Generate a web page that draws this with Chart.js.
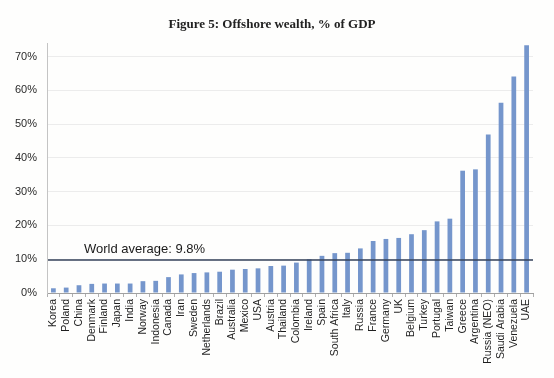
<!DOCTYPE html>
<html>
<head>
<meta charset="utf-8">
<script src="https://cdn.jsdelivr.net/npm/chart.js@4"></script>
<style>
html,body{margin:0;padding:0;background:#fefefd;}
#wrap{width:554px;height:378px;position:relative;}
</style>
</head>
<body>
<div id="wrap"><canvas id="c" width="554" height="378"></canvas></div>
<script>
const categories = ["Korea","Poland","China","Denmark","Finland","Japan","India","Norway","Indonesia","Canada","Iran","Sweden","Netherlands","Brazil","Australia","Mexico","USA","Austria","Thailand","Colombia","Ireland","Spain","South Africa","Italy","Russia","France","Germany","UK","Belgium","Turkey","Portugal","Taiwan","Greece","Argentina","Russia (NEO)","Saudi Arabia","Venezuela","UAE"];
const offshoreWealth = [1.4,1.6,2.3,2.7,2.8,2.8,2.8,3.5,3.6,4.7,5.5,5.9,6.1,6.3,6.9,7.1,7.3,8.0,8.1,9.0,10.0,11.0,11.8,11.9,13.2,15.4,16.0,16.3,17.4,18.6,21.2,22.0,36.2,36.6,46.9,56.3,64.1,73.3];
const worldAverage = 9.8;
const worldAverageLabel = "World average: 9.8%";
const titleText = "Figure 5: Offshore wealth, % of GDP";
const yTicks = [0,10,20,30,40,50,60,70];

const overlay = {
  id: 'overlay',
  afterDatasetsDraw(chart) {
    const ctx = chart.ctx, a = chart.chartArea, y = chart.scales.y.getPixelForValue(worldAverage);
    ctx.save();
    ctx.strokeStyle = '#34425a';
    ctx.lineWidth = 1.5;
    ctx.beginPath();
    ctx.moveTo(a.left + 1, y);
    ctx.lineTo(a.right, y);
    ctx.stroke();
    ctx.fillStyle = '#1a1a1a';
    ctx.font = '13px "Liberation Sans", Arial, sans-serif';
    ctx.textAlign = 'left';
    ctx.textBaseline = 'alphabetic';
    ctx.fillText(worldAverageLabel, a.left + 37, y - 7);
    ctx.fillStyle = '#222';
    ctx.font = 'bold 13px "Liberation Serif", "DejaVu Serif", serif';
    ctx.textAlign = 'center';
    ctx.textBaseline = 'middle';
    ctx.fillText(titleText, 272, 25);
    ctx.restore();
  }
};

new Chart(document.getElementById('c'), {
  type: 'bar',
  data: {
    labels: categories,
    datasets: [{
      data: offshoreWealth,
      backgroundColor: '#7596cc',
      borderWidth: 0,
      barPercentage: 0.37,
      categoryPercentage: 1.0
    }]
  },
  options: {
    responsive: false,
    animation: false,
    events: [],
    layout: { padding: { left: 0, right: 21, top: 43, bottom: 0 } },
    plugins: { legend: { display: false }, tooltip: { enabled: false }, title: { display: false } },
    scales: {
      x: {
        afterFit(s) { s.height = 85; },
        grid: { offset: true, drawOnChartArea: false, drawTicks: true, tickLength: 4, color: '#b0b0b0' },
        border: { color: '#a0a0a0', width: 1 },
        ticks: {
          autoSkip: false, maxRotation: 90, minRotation: 90, padding: 2,
          color: '#1f1f1f',
          font: { family: '"Liberation Sans", Arial, sans-serif', size: 10.5 }
        }
      },
      y: {
        min: 0, max: 74,
        afterFit(s) { s.width = 47; },
        afterBuildTicks(s) { s.ticks = yTicks.map(v => ({ value: v })); },
        grid: { color: '#ececec', drawTicks: false },
        border: { color: '#c4c4c4', width: 1 },
        ticks: {
          padding: 10,
          color: '#2a2a2a',
          font: { family: '"Liberation Sans", Arial, sans-serif', size: 11 },
          callback: v => v + '%'
        }
      }
    }
  },
  plugins: [overlay]
});
</script>
</body>
</html>
